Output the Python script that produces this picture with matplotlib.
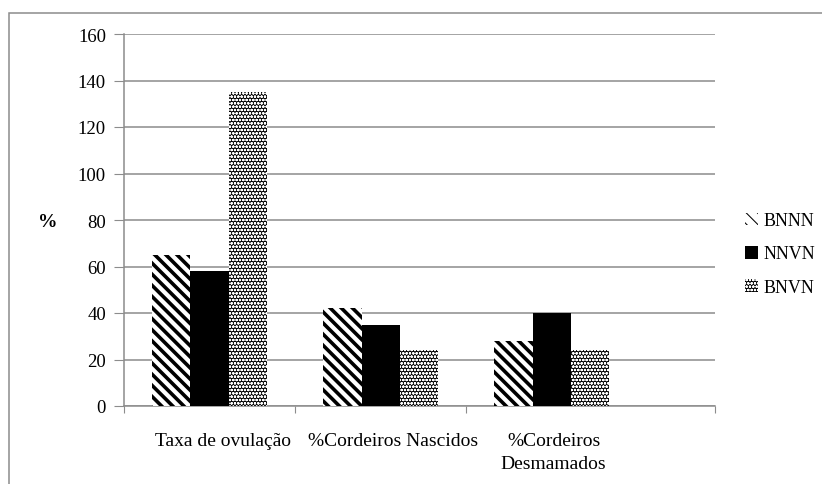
import numpy as np
import matplotlib
matplotlib.use("Agg")
import matplotlib.pyplot as plt
from matplotlib.patches import Rectangle, Patch
from matplotlib.legend_handler import HandlerTuple

plt.rcParams['font.family'] = ['Liberation Serif', 'DejaVu Serif']

# dados
categorias = ["Taxa de ovulação", "%Cordeiros Nascidos", "%Cordeiros\nDesmamados"]
series = ["BNNN", "NNVN", "BNVN"]
bnnn = [65, 42, 28]
nnvn = [58, 35, 40]
bnvn = [135, 24, 24]
yticks = [0, 20, 40, 60, 80, 100, 120, 140, 160]

fig = plt.figure(figsize=(8.22, 4.85), dpi=100)
ax = fig.add_axes([124 / 822, 1 - 407 / 485, (715 - 124) / 822, (407 - 35) / 485])

x = np.arange(len(categorias))
w = 0.224
grid_c = '#8c8c8c'
listra = '\\\\\\'
pontos = 'ooooo'

# BNNN - listras diagonais
plt.rcParams['hatch.linewidth'] = 2.6
plt.rcParams['hatch.color'] = 'black'
b1 = ax.bar(x - w, bnnn, w, color='white', edgecolor='black', linewidth=0,
            hatch=listra, zorder=3)

# NNVN - preto
b2 = ax.bar(x, nnvn, w, color='black', linewidth=0, zorder=3)

# BNVN - pontilhado (fundo preto + pontos brancos)
b3a = ax.bar(x + w, bnvn, w, color='black', linewidth=0, zorder=3)
plt.rcParams['hatch.linewidth'] = 0.75
b3b = ax.bar(x + w, bnvn, w, facecolor='none', edgecolor='white', linewidth=0,
             hatch=pontos, zorder=4)

ax.set_ylim(0, 160)
ax.set_xlim(-0.5, 2.953)
ax.set_yticks(yticks)
ax.yaxis.grid(True, color=grid_c, linewidth=1.1, zorder=0)
ax.set_axisbelow(True)

# ticks do eixo x nas divisões
ax.set_xticks([-0.5, 0.5, 1.5, 2.953])
ax.set_xticklabels([])
ax.set_xticks(x + [0.08, 0.07, 0.01], minor=True)
ax.set_xticklabels(categorias, minor=True, fontsize=14, linespacing=1.45)
ax.tick_params(axis='x', which='minor', length=0, pad=19)
ax.tick_params(axis='x', which='major', length=5, color=grid_c, direction='out')
ax.tick_params(axis='y', length=7, color=grid_c, labelsize=13.5, pad=6)

for s in ['top', 'right']:
    ax.spines[s].set_visible(False)
for s in ['left', 'bottom']:
    ax.spines[s].set_color(grid_c)
    ax.spines[s].set_linewidth(1.1)

fig.text(48 / 822, 1 - 223 / 485, "%", fontsize=14, fontweight='bold',
         ha='center', va='center')

# legenda
plt.rcParams['hatch.linewidth'] = 2.6
h1 = Patch(facecolor='white', edgecolor='black', linewidth=0, hatch=listra)
h2 = Patch(facecolor='black', linewidth=0)
h3a = Patch(facecolor='black', linewidth=0)
plt.rcParams['hatch.linewidth'] = 0.75
h3b = Patch(facecolor='none', edgecolor='white', linewidth=0, hatch=pontos)
fig.legend([h1, h2, (h3a, h3b)], series, loc='center left',
           bbox_to_anchor=(745 / 822, 1 - 255 / 485), frameon=False,
           fontsize=13, handlelength=0.7, handleheight=0.7, handletextpad=0.3,
           labelspacing=0.9, borderaxespad=0, borderpad=0,
           handler_map={tuple: HandlerTuple(ndivide=1, pad=0)})

# moldura externa
fig.patches.append(Rectangle((9 / 822, -0.1), 1.2, 1 - 14 / 485 + 0.1,
                             transform=fig.transFigure, fill=False,
                             edgecolor=grid_c, linewidth=1.1))

fig.savefig("out.png", dpi=100)
